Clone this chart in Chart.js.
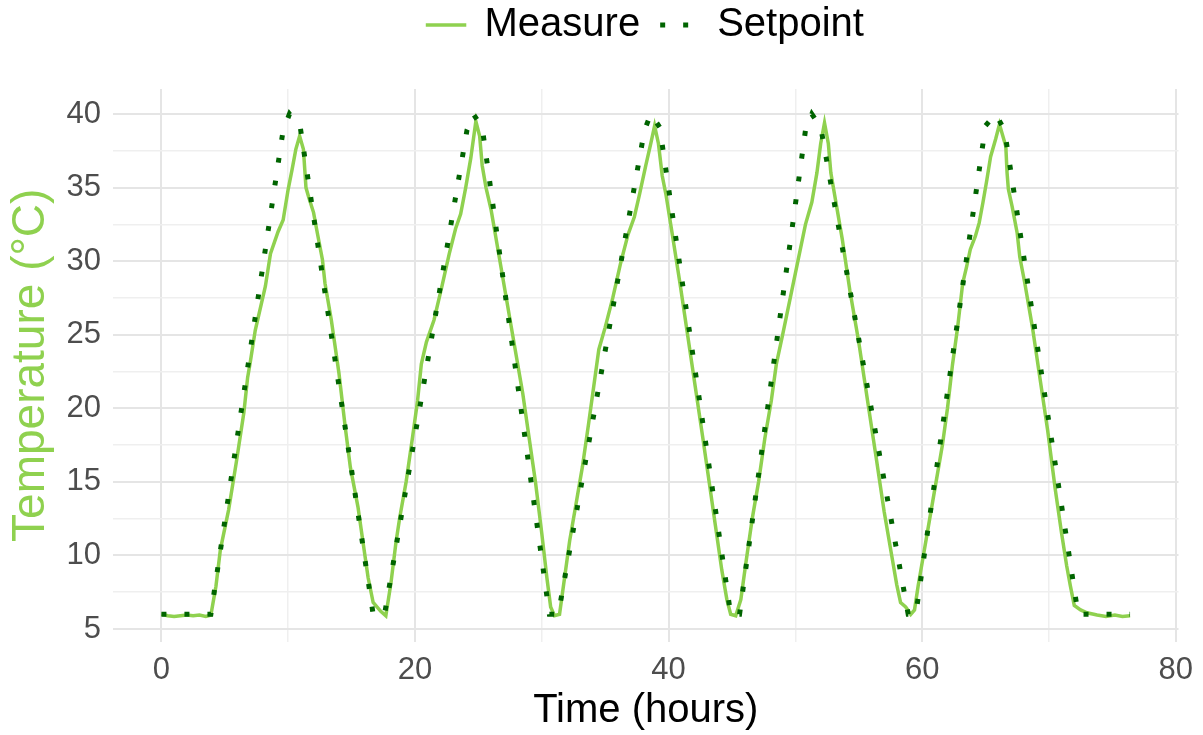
<!DOCTYPE html>
<html>
<head>
<meta charset="utf-8">
<title>Temperature</title>
<script src="https://cdn.jsdelivr.net/npm/chart.js@4.4.1/dist/chart.umd.min.js"></script>
<style>
  body { margin: 0; background: #fff; }
  canvas { display: block; }
</style>
</head>
<body>
<canvas id="chart" width="1203" height="735"></canvas>
<script>
// measured temperature (hours, °C)
const measureTime = [
  0, 0.5, 1, 1.5, 2, 2.5, 3, 3.5, 3.9,
  4.3, 4.65, 5.3, 5.9, 6.5, 6.8, 7.0, 7.4, 8.2, 8.6, 9.2, 9.6, 10.0, 10.3, 10.6, 10.9,
  11.2, 11.4, 11.6, 12.0, 12.3, 12.7, 12.9, 13.4, 14.0, 14.5, 14.9, 15.5, 15.9, 16.3, 16.7, 17.3, 17.7,
  18.1, 18.5, 18.8, 19.3, 19.8, 20.2, 20.5, 20.9, 21.5, 22.1, 22.7, 23.2, 23.6, 24.0, 24.4, 24.8,
  25.1, 25.3, 25.6, 26.0, 26.6, 27.2, 27.9, 28.5, 29.0, 29.5, 30.0, 30.4, 30.7, 31.0, 31.4,
  31.8, 32.2, 32.7, 33.2, 33.7, 34.1, 34.5, 35.0, 35.6, 36.2, 36.8, 37.3, 37.7, 38.2, 38.6, 38.9,
  39.2, 39.5, 39.8, 40.3, 40.9, 41.5, 42.1, 42.7, 43.2, 43.7, 44.2, 44.6, 44.9, 45.3,
  45.7, 46.1, 46.6, 47.1, 47.6, 48.1, 48.5, 49.0, 49.6, 50.2, 50.8, 51.3, 51.7, 52.0, 52.3,
  52.6, 52.8, 53.1, 53.7, 54.3, 55.0, 55.7, 56.4, 57.0, 57.6, 58.0, 58.3, 58.7, 59.1, 59.4,
  59.7, 60.1, 60.6, 61.1, 61.6, 62.0, 62.4, 62.8, 63.2, 63.5, 63.8, 64.2, 64.5, 64.8, 65.1, 65.4, 65.8, 66.1,
  66.6, 66.7, 66.8, 67.1, 67.5, 67.7, 68.1, 68.7, 69.3, 69.9, 70.5, 71.0, 71.4, 71.7, 72.0,
  72.5, 73.0, 73.8, 74.5, 75.2, 75.8, 76.4
];
const measureTemp = [
  6.0, 5.9, 5.85, 5.9, 5.95, 5.9, 5.95, 5.85, 5.95,
  7.9, 10.4, 13.1, 16.3, 19.7, 22.1, 23.1, 25.3, 28.3, 30.5, 32.0, 32.8, 34.9, 36.2, 37.6, 38.5,
  37.6, 35.0, 34.4, 33.3, 31.9, 30.1, 28.5, 26.0, 22.4, 18.7, 16.0, 13.3, 10.9, 8.5, 6.8, 6.2, 5.9,
  8.1, 10.9, 12.6, 15.0, 18.0, 20.5, 23.0, 24.5, 26.0, 28.2, 30.5, 32.2, 33.2, 35.0, 37.0, 39.5,
  38.5, 36.5, 35.0, 33.5, 30.5, 27.5, 24.0, 21.0, 18.0, 15.0, 11.5, 8.5, 6.5, 5.9, 6.0,
  8.5, 11.0, 13.5, 16.0, 19.0, 21.5, 24.0, 25.5, 27.5, 29.8, 31.8, 33.0, 34.5, 36.5, 38.0, 39.2,
  38.0, 35.8, 34.5, 31.8, 28.5, 25.0, 21.5, 18.0, 15.0, 12.0, 9.0, 7.0, 6.0, 5.9,
  7.0, 9.5, 12.5, 15.0, 18.0, 20.5, 23.0, 25.0, 27.5, 30.0, 32.5, 34.0, 36.0, 38.0, 39.4,
  38.0, 36.0, 34.5, 31.5, 28.0, 24.5, 20.5, 16.5, 13.0, 10.0, 8.0, 6.8, 6.5, 6.0, 6.3,
  8.0, 10.0, 12.5, 15.0, 17.5, 20.0, 23.0, 25.5, 28.5, 29.6, 30.8, 31.7, 32.6, 34.0, 35.5, 37.1, 38.3, 39.3,
  37.8, 36.0, 34.9, 33.7, 31.9, 30.3, 28.5, 25.5, 22.0, 18.5, 14.5, 11.5, 9.3, 7.9, 6.6,
  6.3, 6.1, 5.95, 5.85, 5.95, 5.85, 5.9
];

// setpoint profile (hours, °C)
const setpointTime = [
  0, 3.9, 9.6, 10.1, 10.95, 16.7, 17.6,
  24.1, 24.6, 25.3, 30.6, 31.3,
  38.1, 38.6, 39.3, 44.9, 45.6,
  50.8, 51.3, 52.0, 58.9, 59.5,
  65.0, 65.8, 66.5, 72.3, 76.4
];
const setpointTemp = [
  6, 6, 38.9, 40, 39.1, 6, 6,
  38.9, 40, 39.1, 6, 6,
  38.9, 40, 39.1, 6, 6,
  38.9, 40, 39.1, 6, 6,
  39.2, 40, 38.9, 6, 6
];

const xTicks = [0, 10, 20, 30, 40, 50, 60, 70, 80];
const yTicks = [5, 7.5, 10, 12.5, 15, 17.5, 20, 22.5, 25, 27.5, 30, 32.5, 35, 37.5, 40];

const measureColor = "#8fd14f";
const setpointColor = "#006400";
const tickColor = "#4d4d4d";
const fontFamily = "'Liberation Sans', Arial, sans-serif";

function toPoints(xs, ys) {
    return xs.map((x, i) => ({ x: x, y: ys[i] }));
}

function gridColor(ctx) {
    return ctx.tick && ctx.tick.major ? "#e5e5e5" : "#efefef";
}

// legend keeps the whole band above the panel
const legendBand = {
    id: "legendBand",
    beforeInit(chart) {
        const fit = chart.legend.fit;
        chart.legend.fit = function () {
            fit.call(this);
            this.height = 104;
        };
    }
};

new Chart(document.getElementById("chart"), {
    type: "line",
    data: {
        datasets: [{
            label: "Measure",
            data: toPoints(measureTime, measureTemp),
            borderColor: measureColor,
            backgroundColor: measureColor,
            borderWidth: 3.5,
            pointRadius: 0,
            tension: 0,
            order: 1
        }, {
            label: "Setpoint",
            data: toPoints(setpointTime, setpointTemp),
            borderColor: setpointColor,
            backgroundColor: setpointColor,
            borderWidth: 5,
            borderDash: [5, 18],
            borderCapStyle: "butt",
            pointRadius: 0,
            tension: 0,
            order: 0
        }]
    },
    options: {
        responsive: false,
        animation: false,
        layout: { padding: { top: -15, right: 23, left: 0, bottom: 0 } },
        plugins: {
            tooltip: { enabled: false },
            legend: {
                position: "top",
                fullSize: false,
                labels: {
                    // a flat box of width 37 keeps the dash pattern on both edges in step
                    boxWidth: 37,
                    boxHeight: 0.01,
                    padding: 20,
                    color: "#000",
                    font: { family: fontFamily, size: 40 },
                    sort: (a, b) => a.datasetIndex - b.datasetIndex
                }
            }
        },
        scales: {
            x: {
                type: "linear",
                min: -3.82,
                max: 80.22,
                afterBuildTicks: s => { s.ticks = xTicks.map(v => ({ value: v, major: v % 20 === 0 })); },
                afterFit: s => { s.height = 93.5; },
                border: { display: false },
                grid: { color: gridColor, lineWidth: c => (c.tick && c.tick.major ? 2 : 1.5), drawTicks: false },
                ticks: {
                    autoSkip: false,
                    maxRotation: 0,
                    padding: 10,
                    color: tickColor,
                    font: { family: fontFamily, size: 31 },
                    callback: v => (v % 20 === 0 ? v : "")
                },
                title: {
                    display: true,
                    text: "Time (hours)",
                    color: "#000",
                    font: { family: fontFamily, size: 40 },
                    padding: { top: 0, bottom: 0 }
                }
            },
            y: {
                min: 4.15,
                max: 41.7,
                afterBuildTicks: s => { s.ticks = yTicks.map(v => ({ value: v, major: v % 5 === 0 })); },
                afterFit: s => { s.width = 113; },
                border: { display: false },
                grid: { color: gridColor, lineWidth: c => (c.tick && c.tick.major ? 2 : 1.5), drawTicks: false },
                ticks: {
                    autoSkip: false,
                    padding: 12,
                    color: tickColor,
                    font: { family: fontFamily, size: 31 },
                    callback: v => (v % 5 === 0 ? v : "")
                },
                title: {
                    display: true,
                    text: "Temperature (°C)",
                    color: measureColor,
                    font: { family: fontFamily, size: 46 },
                    padding: { top: 4, bottom: 0 }
                }
            }
        }
    },
    plugins: [legendBand]
});
</script>
</body>
</html>
